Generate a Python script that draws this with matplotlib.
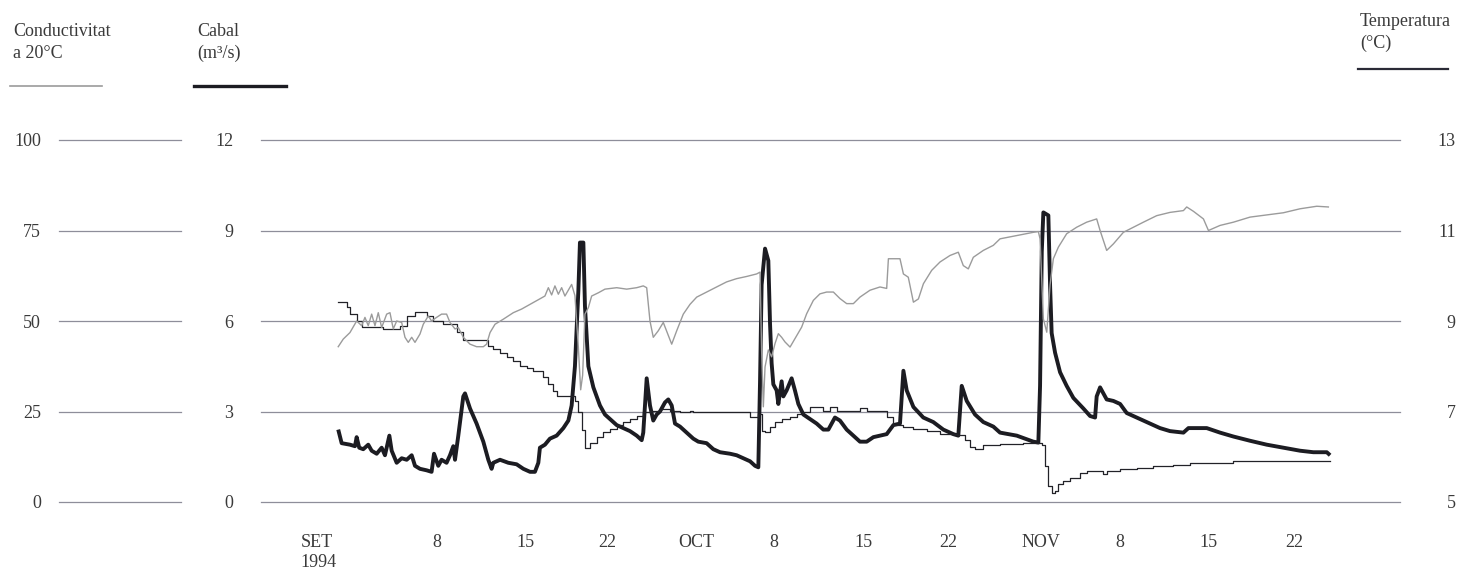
import matplotlib
matplotlib.use("Agg")
import matplotlib.pyplot as plt
from matplotlib.lines import Line2D

plt.rcParams['font.family'] = ['Liberation Serif', 'DejaVu Serif']

# x values are days counted from the "SET 1994" label
tick_pos = [0, 9.7, 16.9, 23.6, 30.9, 37.3, 44.6, 51.6, 59.2, 65.6, 72.9, 79.9]
tick_labels = ["SET\n1994", "8", "15", "22", "OCT", "8", "15", "22",
               "NOV", "8", "15", "22"]

cabal_ticks = [0, 3, 6, 9, 12]
cond_ticks = [0, 25, 50, 75, 100]
temp_ticks = [5, 7, 9, 11, 13]

# cabal (m3/s)
flow_day = [1.58, 1.86, 2.54, 2.95, 3.09, 3.3, 3.63, 4.04, 4.32, 4.73, 5.14, 5.41,
            5.77, 5.96, 6.37, 6.78, 7.19, 7.6, 7.87, 8.28, 8.83, 9.23, 9.43, 9.78,
            10.05, 10.46, 10.74, 11.01, 11.15, 11.42, 11.83, 11.97, 12.38, 12.92,
            13.47, 13.88, 14.15, 14.29, 14.84, 15.52, 16.2, 16.75, 17.3, 17.7,
            17.98, 18.11, 18.52, 18.93, 19.48, 20.03, 20.44, 20.71, 20.98, 21.26,
            21.39, 21.67, 21.8, 22.08, 22.49, 23.03, 23.44, 23.99, 24.4, 24.95,
            25.49, 26.04, 26.45, 26.58, 26.86, 27.13, 27.4, 27.68, 27.95, 28.36,
            28.63, 28.91, 29.18, 29.59, 30.14, 30.68, 31.09, 31.77, 32.32, 32.87,
            33.69, 34.23, 34.78, 35.33, 35.74, 36.01, 36.15, 36.28, 36.56, 36.83,
            36.97, 37.1, 37.24, 37.51, 37.65, 37.92, 38.06, 38.33, 38.74, 39.01,
            39.29, 39.7, 40.24, 40.79, 41.34, 41.75, 42.29, 42.7, 43.25, 43.8,
            44.34, 44.89, 45.44, 45.98, 46.53, 47.08, 47.62, 47.9, 48.17, 48.72,
            49.53, 50.35, 51.17, 51.99, 52.4, 52.68, 53.09, 53.77, 54.45, 55.27,
            55.82, 57.19, 58.55, 58.96, 59.1, 59.24, 59.37, 59.78, 59.92, 60.05,
            60.33, 60.74, 61.28, 61.83, 62.65, 63.2, 63.61, 63.74, 64.02, 64.56,
            65.11, 65.66, 66.2, 66.75, 67.3, 68.11, 68.93, 69.75, 70.85, 71.26,
            72.21, 72.76, 73.85, 74.95, 76.31, 77.68, 79.04, 80.41, 81.5, 82.6,
            82.87]
flow_q = [2.4, 1.95, 1.9, 1.85, 2.15, 1.8, 1.75, 1.9, 1.7, 1.6, 1.8, 1.55,
          2.2, 1.7, 1.3, 1.45, 1.4, 1.55, 1.2, 1.1, 1.05, 1.0, 1.6, 1.2,
          1.4, 1.3, 1.55, 1.85, 1.4, 2.2, 3.5, 3.6, 3.1, 2.6,
          2.0, 1.4, 1.1, 1.3, 1.4, 1.3, 1.25, 1.1, 1.0, 1.0,
          1.3, 1.8, 1.9, 2.1, 2.2, 2.45, 2.7, 3.2, 4.5, 7.0,
          8.6, 8.6, 6.5, 4.5, 3.8, 3.2, 2.9, 2.7, 2.55, 2.45,
          2.35, 2.2, 2.05, 2.3, 4.1, 3.2, 2.7, 2.9, 3.0, 3.3,
          3.4, 3.2, 2.6, 2.5, 2.3, 2.1, 2.0, 1.95, 1.75, 1.65,
          1.6, 1.55, 1.45, 1.35, 1.2, 1.15, 4.0, 7.2, 8.4, 8.0,
          5.9, 4.6, 3.9, 3.7, 3.25, 4.0, 3.5, 3.7, 4.1, 3.7,
          3.25, 2.9, 2.75, 2.6, 2.4, 2.4, 2.8, 2.7, 2.4, 2.2,
          2.0, 2.0, 2.15, 2.2, 2.25, 2.55, 2.6, 4.35, 3.7, 3.15,
          2.8, 2.65, 2.4, 2.25, 2.2, 3.85, 3.35, 2.9, 2.65, 2.5,
          2.3, 2.2, 2.0, 1.97, 3.85, 8.3, 9.6, 9.5, 7.2, 5.6,
          4.95, 4.3, 3.85, 3.45, 3.1, 2.85, 2.8, 3.5, 3.8, 3.4,
          3.35, 3.25, 2.95, 2.85, 2.75, 2.6, 2.45, 2.35, 2.3, 2.45,
          2.45, 2.45, 2.3, 2.17, 2.03, 1.9, 1.8, 1.7, 1.65, 1.65,
          1.55]

# conductivitat a 20 C
cond_day = [1.58, 1.99, 2.54, 3.09, 3.5, 3.77, 4.04, 4.32, 4.59, 4.86, 5.14, 5.55,
            5.82, 6.09, 6.37, 6.78, 7.05, 7.32, 7.6, 7.87, 8.28, 8.55, 8.96, 9.23,
            9.64, 10.05, 10.46, 10.74, 11.15, 11.42, 11.83, 12.38, 12.92, 13.47,
            13.74, 14.02, 14.43, 15.11, 15.93, 16.61, 17.3, 17.84, 18.52, 18.8,
            19.07, 19.34, 19.62, 19.89, 20.16, 20.71, 20.98, 21.26, 21.45, 21.61,
            21.8, 22.08, 22.35, 22.9, 23.44, 24.4, 25.22, 26.04, 26.58, 26.86,
            27.13, 27.4, 27.81, 28.22, 28.63, 28.91, 29.32, 29.86, 30.41, 30.96,
            31.77, 32.59, 33.41, 34.23, 35.05, 35.87, 36.15, 36.28, 36.42, 36.56,
            36.83, 37.1, 37.38, 37.65, 37.92, 38.2, 38.61, 39.01, 39.56, 39.97,
            40.52, 41.06, 41.61, 42.16, 42.7, 43.25, 43.8, 44.34, 45.16, 45.98,
            46.53, 46.67, 47.62, 47.9, 48.3, 48.72, 49.13, 49.54, 50.22, 50.9,
            51.72, 52.4, 52.81, 53.22, 53.63, 54.45, 55.27, 55.82, 57.19, 58.55,
            58.96, 59.1, 59.37, 59.65, 59.92, 60.19, 60.6, 61.28, 62.1, 62.92,
            63.74, 64.02, 64.56, 65.11, 65.93, 66.75, 67.57, 68.66, 69.75, 70.85,
            71.12, 71.67, 72.49, 72.9, 73.85, 74.95, 76.31, 77.68, 79.04, 80.41,
            81.78, 82.73]
cond_val = [42.9, 45, 46.8, 50, 48.7, 51, 48.7, 51.9, 48.7, 52.3, 48.2, 51.9,
            52.3, 47.8, 50, 49.6, 45.5, 44.1, 45.5, 44.1, 46.4, 49.1, 51.4, 50,
            51, 51.9, 51.9, 49.6, 47.8, 48.2, 45.5, 43.6, 42.9, 42.9,
            43.6, 46.8, 49.1, 50.5, 52.3, 53.3, 54.6, 55.6, 56.9, 59.2,
            57.2, 59.7, 57.4, 59.2, 56.9, 60.1, 57, 42.7, 31, 35,
            51.9, 53.7, 56.9, 57.8, 58.8, 59.2, 58.8, 59.2, 59.7, 59.2,
            50, 45.5, 47.3, 49.6, 46, 43.6, 47.3, 51.9, 54.6, 56.6,
            58, 59.4, 60.8, 61.7, 62.3, 63, 63.5, 41.9, 26.3, 37.3,
            42, 40.1, 43.8, 46.5, 45.5, 44.2, 42.8, 45.1, 48.3, 52,
            55.7, 57.5, 58, 58, 56.2, 54.8, 54.8, 56.6, 58.5, 59.4,
            59, 67.2, 67.2, 63, 62.1, 55.2, 56.1, 60.3, 64, 66.3,
            68.1, 69, 65.3, 64.4, 67.6, 69.5, 70.9, 72.7, 73.6, 74.5,
            74.7, 72.7, 50.6, 46.9, 60, 67.2, 70.4, 74.1, 75.9, 77.3,
            78.2, 75, 69.5, 71.3, 74.5, 75.9, 77.3, 79.1, 80, 80.5,
            81.5, 80.3, 78.2, 75, 76.4, 77.3, 78.7, 79.3, 79.9, 81,
            81.7, 81.5]

# temperatura (C)
temp_day = [1.58, 2.27, 2.54, 3.09, 3.5, 5.27, 6.64, 7.19, 7.87, 8.83, 9.37, 10.19,
            11.28, 11.83, 13.88, 14.29, 14.84, 15.38, 15.93, 16.48, 17.02, 17.57,
            18.39, 18.8, 19.21, 19.48, 20.98, 21.26, 21.53, 21.8, 22.21, 22.76,
            23.3, 23.85, 24.4, 24.95, 25.49, 26.04, 26.58, 27.13, 27.95, 28.77,
            29.59, 30.41, 30.68, 35.33, 36.01, 36.28, 36.56, 36.97, 37.38, 37.92,
            38.61, 39.15, 39.7, 40.24, 41.34, 41.88, 42.43, 44.34, 44.89, 46.53,
            47.08, 47.9, 48.72, 49.81, 50.9, 52.27, 52.95, 53.36, 53.77, 54.45,
            55.82, 57.73, 59.24, 59.51, 59.78, 60.05, 60.33, 60.6, 61.01, 61.56,
            62.38, 62.92, 64.29, 64.56, 65.66, 67.02, 68.39, 70.03, 71.39, 74.67,
            74.95, 82.87]
temp_val = [9.43, 9.3, 9.15, 9.0, 8.86, 8.83, 8.89, 9.11, 9.19, 9.11, 9.0, 8.93,
            8.75, 8.58, 8.45, 8.38, 8.3, 8.2, 8.12, 8.0, 7.96, 7.9,
            7.76, 7.6, 7.46, 7.35, 7.24, 7.0, 6.6, 6.2, 6.3, 6.43,
            6.54, 6.62, 6.7, 6.77, 6.84, 6.9, 7.0, 7.02, 7.06, 7.02,
            7.0, 7.02, 6.98, 6.87, 6.95, 6.58, 6.54, 6.65, 6.76, 6.84,
            6.87, 6.95, 6.98, 7.1, 7.02, 7.1, 7.02, 7.08, 7.02, 6.87,
            6.7, 6.65, 6.62, 6.58, 6.5, 6.47, 6.36, 6.21, 6.18, 6.26,
            6.29, 6.31, 6.25, 5.8, 5.35, 5.2, 5.25, 5.39, 5.46, 5.54,
            5.63, 5.69, 5.61, 5.69, 5.72, 5.76, 5.8, 5.81, 5.87, 5.87,
            5.9, 5.9]

W, H = 1460, 571
fig = plt.figure(figsize=(W / 100, H / 100), dpi=100)

FS = 13
text_col = "#3a3a3a"
grid_col = "#8e8e9a"
bottom = 1 - 502 / H
height = (502 - 140) / H


def hide_spines(a):
    for s in a.spines.values():
        s.set_visible(False)


# main axes (cabal)
ax = fig.add_axes([261 / W, bottom, (1400 - 261) / W, height])
ax.set_xlim(-4.75, 88.6)
ax.set_ylim(0, 12)
ax.set_yticks(cabal_ticks)
ax.set_yticklabels([str(v) for v in cabal_ticks])
for v in cabal_ticks:
    ax.axhline(v, color=grid_col, lw=0.9, clip_on=False, zorder=1)
ax.set_xticks(tick_pos)
ax.set_xticklabels(tick_labels, multialignment='left')
ax.tick_params(length=0, labelsize=FS, colors=text_col)
ax.tick_params(axis='y', pad=20)
ax.tick_params(axis='x', pad=23)
hide_spines(ax)
ax.plot(flow_day, flow_q, color="#1c1c22", lw=2.8, solid_joinstyle='round',
        solid_capstyle='butt', zorder=3)

# temperatura (right)
ax_t = ax.twinx()
ax_t.set_ylim(5, 13)
ax_t.set_yticks(temp_ticks)
ax_t.set_yticklabels([str(v) for v in temp_ticks])
ax_t.tick_params(length=0, labelsize=FS, colors=text_col, pad=40)
for lbl in ax_t.get_yticklabels():
    lbl.set_horizontalalignment('right')
hide_spines(ax_t)
ax_t.plot(temp_day, temp_val, color="#222228", lw=0.9, drawstyle='steps-post')

# conductivitat (drawn on top, scale shown on the left)
ax_c = ax.twinx()
ax_c.set_ylim(0, 100)
ax_c.set_yticks([])
hide_spines(ax_c)
ax_c.plot(cond_day, cond_val, color="#9b9b9b", lw=1.0)

# separate conductivity scale at the far left
ax_l = fig.add_axes([59 / W, bottom, (181 - 59) / W, height])
ax_l.set_ylim(0, 100)
ax_l.set_xticks([])
ax_l.set_yticks(cond_ticks)
ax_l.set_yticklabels([str(v) for v in cond_ticks])
for v in cond_ticks:
    ax_l.axhline(v, color=grid_col, lw=0.9, clip_on=False)
ax_l.tick_params(length=0, labelsize=FS, colors=text_col, pad=13)
hide_spines(ax_l)
ax_l.patch.set_visible(False)


# legend headers
def ftext(x, y, s):
    fig.text(x / W, 1 - y / H, s, fontsize=FS, color=text_col, va='center', ha='left')


ftext(13, 32, "Conductivitat")
ftext(13, 53, "a 20°C")
ftext(197, 32, "Cabal")
ftext(197, 53, "(m³/s)")
ftext(1360, 22, "Temperatura")
ftext(1360, 43, "(°C)")

fig.add_artist(Line2D([10 / W, 102 / W], [1 - 86 / H] * 2, color="#9b9b9b", lw=1.2))
fig.add_artist(Line2D([194 / W, 286 / W], [1 - 86 / H] * 2, color="#1c1c22", lw=2.4))
fig.add_artist(Line2D([1358 / W, 1448 / W], [1 - 69 / H] * 2, color="#2a2a36", lw=1.6))

fig.savefig("out.png", dpi=100, facecolor="white")
